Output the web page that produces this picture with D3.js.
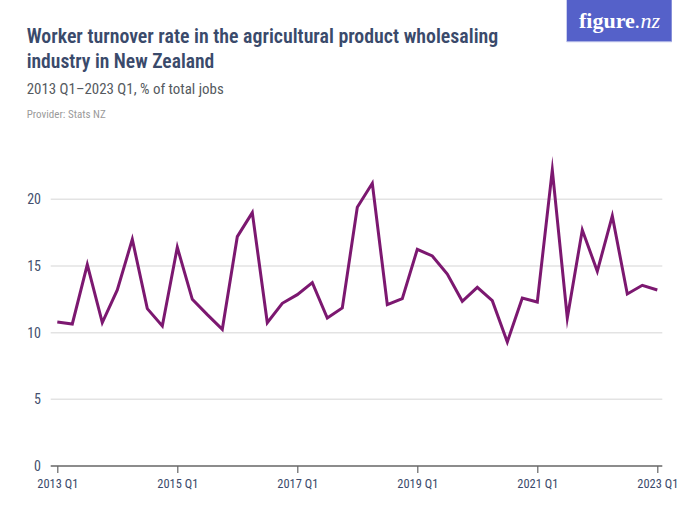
<!DOCTYPE html>
<html><head><meta charset="utf-8">
<script src="https://cdn.jsdelivr.net/npm/d3@7"></script>
<style>
body{margin:0;background:#fff;}
svg{display:block;}
text{font-family:"Liberation Sans Narrow","Roboto Condensed","Roboto","Liberation Sans",sans-serif;}
</style></head><body>
<svg id="chart" width="700" height="525"></svg>
<script>
const quarters = [
 "2013 Q1","2013 Q2","2013 Q3","2013 Q4",
 "2014 Q1","2014 Q2","2014 Q3","2014 Q4",
 "2015 Q1","2015 Q2","2015 Q3","2015 Q4",
 "2016 Q1","2016 Q2","2016 Q3","2016 Q4",
 "2017 Q1","2017 Q2","2017 Q3","2017 Q4",
 "2018 Q1","2018 Q2","2018 Q3","2018 Q4",
 "2019 Q1","2019 Q2","2019 Q3","2019 Q4",
 "2020 Q1","2020 Q2","2020 Q3","2020 Q4",
 "2021 Q1","2021 Q2","2021 Q3","2021 Q4",
 "2022 Q1","2022 Q2","2022 Q3","2022 Q4",
 "2023 Q1"];
const turnover = [
 10.8, 10.65, 15.1, 10.75,
 13.2, 17.0, 11.8, 10.5,
 16.4, 12.5, 11.35, 10.25,
 17.2, 19.0, 10.75, 12.2,
 12.85, 13.75, 11.1, 11.85,
 19.4, 21.2, 12.1, 12.55,
 16.25, 15.75, 14.4, 12.35,
 13.4, 12.4, 9.3, 12.6,
 12.3, 22.2, 11.1, 17.7,
 14.6, 18.75, 12.9, 13.55,
 13.2];
const xTickLabels = ["2013 Q1","2015 Q1","2017 Q1","2019 Q1","2021 Q1","2023 Q1"];
const yTicks = [0,5,10,15,20];

const svg = d3.select("#chart");
const x = d3.scalePoint().domain(quarters).range([57.3, 657.3]);
const y = d3.scaleLinear().domain([0, 20]).range([466, 199.3]);
const plotLeft = 50.7, plotRight = 662.3;

// header
const title = svg.append("g");
title.append("text").attr("x",26.7).attr("y",43).attr("font-size",21).attr("font-weight",600)
 .attr("fill","#3a4a6b").attr("textLength",471.6).attr("lengthAdjust","spacingAndGlyphs")
 .text("Worker turnover rate in the agricultural product wholesaling");
title.append("text").attr("x",26.7).attr("y",68).attr("font-size",21).attr("font-weight",600)
 .attr("fill","#3a4a6b").attr("textLength",187.6).attr("lengthAdjust","spacingAndGlyphs")
 .text("industry in New Zealand");
svg.append("text").attr("x",26.7).attr("y",94).attr("font-size",15.5)
 .attr("fill","#555a60").attr("textLength",197).attr("lengthAdjust","spacingAndGlyphs")
 .text("2013 Q1–2023 Q1, % of total jobs");
svg.append("text").attr("x",26.7).attr("y",117.5).attr("font-size",11)
 .attr("fill","#9a9a9a").attr("textLength",79).attr("lengthAdjust","spacingAndGlyphs")
 .text("Provider: Stats NZ");

// logo
svg.append("rect").attr("x",566.7).attr("y",0).attr("width",105).attr("height",41.7).attr("fill","#5561c9");
svg.append("rect").attr("x",566.7).attr("y",41).attr("width",105).attr("height",1.2).attr("fill","#a9b0e4");
const logo = svg.append("text").attr("x",579).attr("y",28).attr("font-size",22).attr("font-weight",700)
 .attr("fill","#fff").style("font-family","'Liberation Serif','DejaVu Serif',serif")
 .attr("textLength",81).attr("lengthAdjust","spacingAndGlyphs");
logo.append("tspan").text("figure");
logo.append("tspan").attr("font-style","italic").attr("font-weight",400).text(".nz");

// gridlines
svg.append("g").selectAll("line").data(yTicks.filter(d=>d>0)).join("line")
 .attr("x1",plotLeft).attr("x2",plotRight)
 .attr("y1",d=>y(d)).attr("y2",d=>y(d))
 .attr("stroke","#e3e3e3").attr("stroke-width",1.5);

// y labels
svg.append("g").selectAll("text").data(yTicks).join("text")
 .attr("x",41).attr("y",d=>y(d)).attr("dy","0.35em")
 .attr("text-anchor","end").attr("font-size",14).attr("fill","#44506e")
 .text(d=>d);

// x axis
const xAxis = d3.axisBottom(x).tickValues(xTickLabels).tickSize(7).tickSizeOuter(0);
const gx = svg.append("g").attr("transform",`translate(0,${y(0)})`).call(xAxis);
gx.select(".domain").remove();
gx.append("line").attr("x1",plotLeft).attr("x2",plotRight).attr("y1",0).attr("y2",0)
 .attr("stroke","#666").attr("stroke-width",1.3);
gx.selectAll(".tick line").attr("stroke","#666").attr("stroke-width",1.2);
gx.selectAll(".tick text").attr("y",12).attr("font-size",13.5).attr("fill","#3a4a6b")
 .attr("textLength",41).attr("lengthAdjust","spacingAndGlyphs")
 .style("font-family","'Liberation Sans Narrow','Roboto Condensed','Roboto',sans-serif");

// line
const line = d3.line().x((d,i)=>x(quarters[i])).y(d=>y(d));
svg.append("path").datum(turnover).attr("d",line)
 .attr("fill","none").attr("stroke","#7c1870").attr("stroke-width",3)
 .attr("stroke-linejoin","miter").attr("stroke-miterlimit",10);
</script>
</body></html>
